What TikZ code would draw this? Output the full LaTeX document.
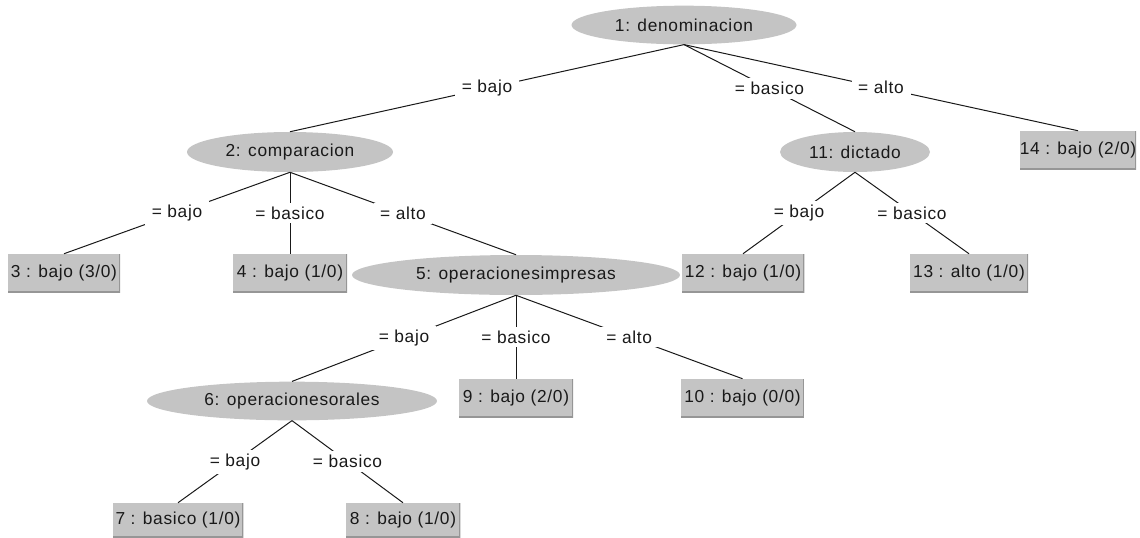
\documentclass[tikz,border=0pt]{standalone}
\usepackage{fontspec}
\setmainfont[LetterSpace=4]{Liberation Sans}
\usetikzlibrary{shapes.geometric}
\definecolor{nodegray}{RGB}{196,196,196}
\definecolor{rimgray}{RGB}{150,150,150}
\definecolor{inkgray}{RGB}{25,25,25}
\tikzset{
  split/.style={ellipse, fill=nodegray, inner sep=0pt, text=inkgray,
    font=\fontsize{13}{15}\selectfont},
  leaf/.style={rectangle, fill=nodegray, inner sep=0pt, text=inkgray,
    minimum height=28.5pt, font=\fontsize{13}{15}\selectfont,
    path picture={\draw[rimgray, line width=1.4pt]
      (path picture bounding box.north east) -- (path picture bounding box.south east)
      -- (path picture bounding box.south west);}},
  branch/.style={draw=inkgray, line width=0.75pt},
  lbl/.style={fill=white, text=inkgray, inner xsep=5pt, inner ysep=3pt,
    font=\fontsize{13}{15}\selectfont}
}
\begin{document}
\begin{tikzpicture}[x=0.75pt, y=-0.75pt]
\useasboundingbox (0,0) rectangle (1140,537);

% decision nodes
\node[split, minimum width=168.75pt, minimum height=29pt] (n1) at (684,25) {1: denominacion};
\node[split, minimum width=154.5pt, minimum height=30pt] (n2) at (290,152) {2: comparacion};
\node[split, minimum width=246pt, minimum height=30pt] (n5) at (516,275) {5: operacionesimpresas};
\node[split, minimum width=217.5pt, minimum height=29pt] (n6) at (292,401) {6: operacionesorales};
\node[split, minimum width=112.5pt, minimum height=30pt] (n11) at (855,152) {11: dictado};

% leaves
\node[leaf, minimum width=84pt] (l3) at (64,273) {3 : bajo (3/0)};
\node[leaf, minimum width=85.5pt] (l4) at (290,273) {4 : bajo (1/0)};
\node[leaf, minimum width=85.5pt] (l9) at (516,398) {9 : bajo (2/0)};
\node[leaf, minimum width=92pt] (l10) at (742.5,398) {10 : bajo (0/0)};
\node[leaf, minimum width=98pt, minimum height=25.5pt] (l7) at (178,520) {7 : basico (1/0)};
\node[leaf, minimum width=86pt, minimum height=25.5pt] (l8) at (403,520) {8 : bajo (1/0)};
\node[leaf, minimum width=92pt] (l12) at (743,273) {12 : bajo (1/0)};
\node[leaf, minimum width=88.5pt] (l13) at (969,273) {13 : alto (1/0)};
\node[leaf, minimum width=86pt] (l14) at (1078,150) {14 : bajo (2/0)};

% branches with their test values
\draw[branch] (n1.south) -- node[lbl] {= bajo} (n2.north);
\draw[branch] (n1.south) -- node[lbl] {= basico} (n11.north);
\draw[branch] (n1.south) -- node[lbl] {= alto} (l14.north);

\draw[branch] (n2.south) -- node[lbl] {= bajo} (l3.north);
\draw[branch] (n2.south) -- node[lbl] {= basico} (l4.north);
\draw[branch] (n2.south) -- node[lbl] {= alto} (n5.north);

\draw[branch] (n5.south) -- node[lbl] {= bajo} (n6.north);
\draw[branch] (n5.south) -- node[lbl] {= basico} (l9.north);
\draw[branch] (n5.south) -- node[lbl] {= alto} (l10.north);

\draw[branch] (n6.south) -- node[lbl] {= bajo} (l7.north);
\draw[branch] (n6.south) -- node[lbl] {= basico} (l8.north);

\draw[branch] (n11.south) -- node[lbl] {= bajo} (l12.north);
\draw[branch] (n11.south) -- node[lbl] {= basico} (l13.north);
\end{tikzpicture}
\end{document}
